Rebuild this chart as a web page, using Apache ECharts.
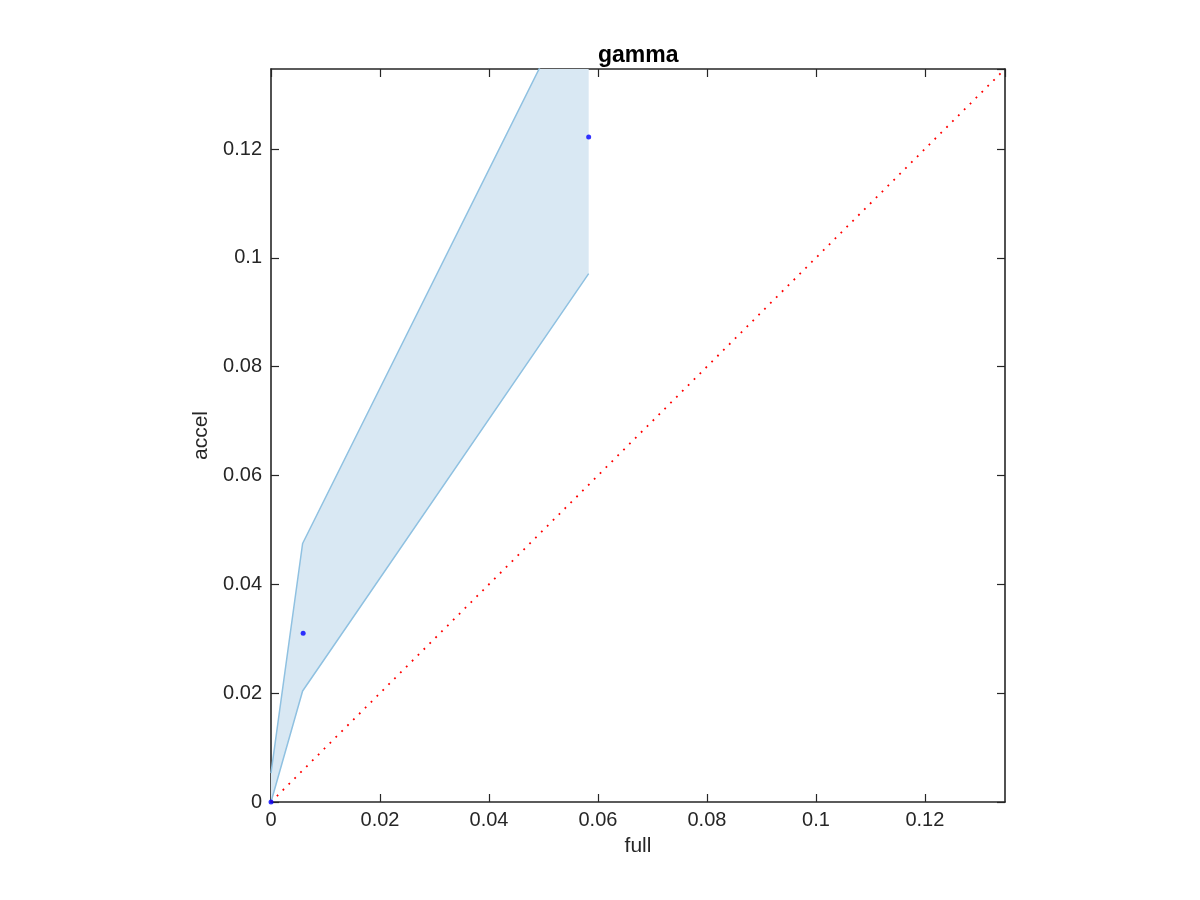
<!DOCTYPE html>
<html><head><meta charset="utf-8">
<script src="https://cdn.jsdelivr.net/npm/echarts@6/dist/echarts.min.js"></script>
<style>html,body{margin:0;padding:0;background:#fff}#c{width:1200px;height:900px}</style>
</head><body><div id="c"></div>
<script>
const titleText = 'gamma';
const xName = 'full';
const yName = 'accel';
const axisMax = 0.1347;
const tickValues = [0, 0.02, 0.04, 0.06, 0.08, 0.1, 0.12];
const bandX = [0, 0.0058, 0.0583];
const bandUpper = [0.0053, 0.0475, 0.153];
const bandLower = [0, 0.0204, 0.0971];
const pointsX = [0, 0.0059, 0.0583];
const pointsY = [0, 0.031, 0.1222];
const diagonal = [[0, 0], [axisMax, axisMax]];

const font = 'Helvetica, Arial, "Liberation Sans", sans-serif';
const axisColor = '#262626';
function fmt(v){
  for (const t of tickValues) if (Math.abs(v - t) < 1e-9) return String(t);
  return '';
}
const baseAxis = {
  min: 0, max: axisMax, interval: 0.02,
  axisLine: {show: true, onZero: false, lineStyle: {color: axisColor, width: 1.6}},
  axisTick: {show: true, inside: true, length: 8, lineStyle: {color: axisColor, width: 1.2}},
  splitLine: {show: false}
};
const chart = echarts.init(document.getElementById('c'));
chart.setOption({
  animation: false,
  backgroundColor: '#fff',
  title: {text: titleText, left: 593, top: 39,
    textStyle: {fontFamily: font, fontSize: 23, fontWeight: 'bold', color: '#000'}},
  grid: {left: 271, top: 69, width: 734, height: 733},
  xAxis: [
    Object.assign({}, baseAxis, {type: 'value', position: 'bottom', name: xName, nameLocation: 'middle', nameGap: 34,
      nameTextStyle: {fontFamily: font, fontSize: 21, color: axisColor},
      axisLabel: {formatter: fmt, fontFamily: font, fontSize: 20, color: axisColor, margin: 8, showMaxLabel: false}}),
    Object.assign({}, baseAxis, {type: 'value', position: 'top', axisLabel: {show: false}})
  ],
  yAxis: [
    Object.assign({}, baseAxis, {type: 'value', position: 'left', name: yName, nameLocation: 'middle', nameGap: 56,
      nameTextStyle: {fontFamily: font, fontSize: 21, color: axisColor},
      axisLabel: {formatter: fmt, fontFamily: font, fontSize: 20, color: axisColor, margin: 9, showMaxLabel: false}}),
    Object.assign({}, baseAxis, {type: 'value', position: 'right', axisLabel: {show: false}})
  ],
  series: [
    {
      type: 'custom', clip: true, silent: true, z: 1,
      data: [[0, 0]],
      renderItem: function(params, api){
        const pts = [];
        for (let i = 0; i < bandX.length; i++) pts.push(api.coord([bandX[i], bandUpper[i]]));
        for (let i = bandX.length - 1; i >= 0; i--) pts.push(api.coord([bandX[i], bandLower[i]]));
        return {type: 'polygon', shape: {points: pts}, style: {fill: '#d9e8f3', stroke: null}};
      }
    },
    {type: 'line', data: bandX.map((x, i) => [x, bandUpper[i]]), symbol: 'none', clip: true, z: 2,
      lineStyle: {color: '#8fc1e1', width: 1.5}},
    {type: 'line', data: bandX.map((x, i) => [x, bandLower[i]]), symbol: 'none', clip: true, z: 2,
      lineStyle: {color: '#8fc1e1', width: 1.5}},
    {type: 'line', data: diagonal, symbol: 'none', clip: true, z: 3,
      lineStyle: {color: '#ff0000', width: 1.8, type: [1.8, 6.5]}},
    {type: 'scatter', data: pointsX.map((x, i) => [x, pointsY[i]]), symbol: 'circle', symbolSize: 5, z: 4,
      itemStyle: {color: '#0000ff'}}
  ]
});
</script></body></html>
